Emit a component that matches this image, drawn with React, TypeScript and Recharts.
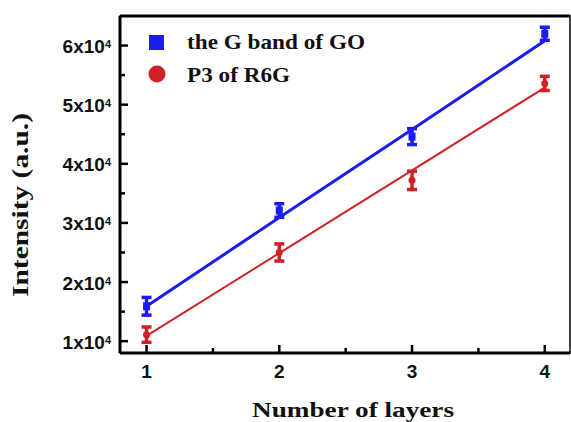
import {
  ComposedChart, Line, Scatter, ErrorBar, XAxis, YAxis,
  ReferenceArea, ReferenceLine, Legend,
} from 'recharts'

const BLUE = '#1c1cf2'
const RED = '#cf2127'
const SERIF = '"Liberation Serif", "Times New Roman", serif'
const SANS = '"Liberation Sans", Arial, sans-serif'

const layers = [1, 2, 3, 4]
const goIntensity = [15900, 32100, 44600, 62000]
const goError = [1500, 1150, 1350, 1100]
const goFit = [15900, 30900, 45800, 60800]
const r6gIntensity = [11100, 25000, 37200, 53600]
const r6gError = [1300, 1450, 1550, 1200]
const r6gFit = [10900, 24900, 38900, 52900]

const xTicks = [1, 1.5, 2, 2.5, 3, 3.5, 4]
const yTicks = [10000, 15000, 20000, 25000, 30000, 35000, 40000, 45000, 50000, 55000, 60000]
const legendNames = ['the G band of GO', 'P3 of R6G']

const data = layers.map((x, i) => ({
  x,
  go: goIntensity[i],
  goErr: goError[i],
  goFit: goFit[i],
  r6g: r6gIntensity[i],
  r6gErr: r6gError[i],
  r6gFit: r6gFit[i],
}))

// ticks point inward, labels only on the majors
function XTick({ x, y, payload }: any) {
  const v = payload.value
  const major = Number.isInteger(v)
  return (
    <g>
      <line x1={x} x2={x} y1={y} y2={y - (major ? 8 : 5)} stroke="#000" strokeWidth={2.5} />
      {major && (
        <text x={x} y={y + 25} textAnchor="middle" fontFamily={SANS} fontWeight="bold" fontSize={19} fill="#111">
          {v}
        </text>
      )}
    </g>
  )
}

function YTick({ x, y, payload }: any) {
  const v = payload.value
  const major = v % 10000 === 0
  return (
    <g>
      <line x1={x} x2={x + (major ? 8 : 5)} y1={y} y2={y} stroke="#000" strokeWidth={2.5} />
      {major && (
        <text x={x - 9} y={y + 7.5} textAnchor="end" fontFamily={SANS} fontWeight="bold" fontSize={19} fill="#111">
          {v / 10000}x10<tspan dy={-5} fontSize={11}>4</tspan>
        </text>
      )}
    </g>
  )
}

const xLabel = () => (
  <text x={353} y={417} textAnchor="middle" fontFamily={SERIF} fontWeight="bold" fontSize={22}
    textLength={202} lengthAdjust="spacingAndGlyphs" fill="#111">
    Number of layers
  </text>
)

const yLabel = () => (
  <text x={28} y={205} textAnchor="middle" transform="rotate(-90, 28, 205)" fontFamily={SERIF}
    fontWeight="bold" fontSize={24} textLength={184} lengthAdjust="spacingAndGlyphs" fill="#111">
    Intensity (a.u.)
  </text>
)

const renderLegend = () => (
  <svg width={571} height={100} style={{ display: 'block' }}>
    <rect x={149} y={35} width={15} height={15} fill={BLUE} />
    <circle cx={157} cy={74} r={8.5} fill={RED} />
    <text x={187} y={49} fontFamily={SERIF} fontWeight="bold" fontSize={21} textLength={178}
      lengthAdjust="spacingAndGlyphs" fill="#111">{legendNames[0]}</text>
    <text x={187} y={82} fontFamily={SERIF} fontWeight="bold" fontSize={21} textLength={103}
      lengthAdjust="spacingAndGlyphs" fill="#111">{legendNames[1]}</text>
  </svg>
)

const square = (p: any) => <rect x={p.cx - 3.5} y={p.cy - 4} width={7} height={8} fill={BLUE} />
const dot = (p: any) => <circle cx={p.cx} cy={p.cy} r={3.5} fill={RED} />

export default function App() {
  return (
    <div style={{ position: 'absolute', left: 0, top: 0, width: 571, height: 422, background: '#fff' }}>
      <ComposedChart width={571} height={422} data={data} margin={{ top: 16, right: 1, left: 20, bottom: 29 }}>
        <XAxis
          dataKey="x"
          type="number"
          domain={[0.8, 4.19]}
          ticks={xTicks}
          interval={0}
          tickSize={0}
          tickMargin={0}
          height={40}
          tick={<XTick />}
          axisLine={{ stroke: '#000', strokeWidth: 3 }}
          label={xLabel}
        />
        <YAxis
          type="number"
          domain={[8000, 65000]}
          ticks={yTicks}
          interval={0}
          tickSize={0}
          tickMargin={0}
          width={100}
          tick={<YTick />}
          axisLine={{ stroke: '#000', strokeWidth: 3 }}
          label={yLabel}
        />
        <ReferenceArea x1={0.8} x2={4.19} y1={8000} y2={65000} fill="none" stroke="#000" strokeWidth={1.5} />
        <ReferenceLine y={65000} stroke="#000" strokeWidth={3} />
        <Legend layout="horizontal" verticalAlign="middle" align="center"
          wrapperStyle={{ position: 'absolute', left: 0, top: 0, width: 571, height: 100 }}
          content={renderLegend} />
        <Line type="linear" dataKey="goFit" stroke={BLUE} strokeWidth={3} dot={false} isAnimationActive={false} />
        <Line type="linear" dataKey="r6gFit" stroke={RED} strokeWidth={2} dot={false} isAnimationActive={false} />
        <Scatter dataKey="go" shape={square} isAnimationActive={false}>
          <ErrorBar dataKey="goErr" direction="y" width={5} stroke={BLUE} strokeWidth={3.5} />
        </Scatter>
        <Scatter dataKey="r6g" shape={dot} isAnimationActive={false}>
          <ErrorBar dataKey="r6gErr" direction="y" width={5} stroke={RED} strokeWidth={3.5} />
        </Scatter>
      </ComposedChart>
    </div>
  )
}
